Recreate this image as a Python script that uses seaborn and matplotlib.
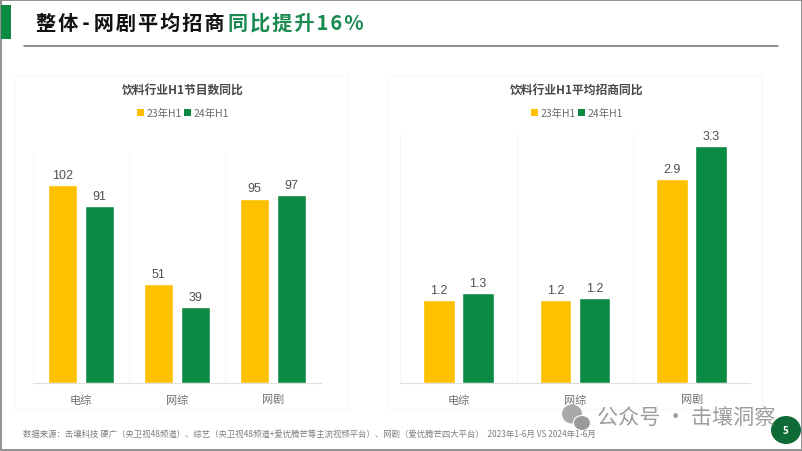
import matplotlib
matplotlib.use('Agg')
import matplotlib.pyplot as plt
from matplotlib.patches import Rectangle, Ellipse
from matplotlib.lines import Line2D
import pandas as pd
import seaborn as sns

sns.set_theme(style='white')
plt.rcParams['font.family'] = ['Noto Sans CJK SC', 'DejaVu Sans']

# values
categories = ['电综', '网综', '网剧']
years = ['23年H1', '24年H1']
count_23 = [102, 51, 95]
count_24 = [91, 39, 97]
avg_23 = [1.17, 1.17, 2.87]
avg_24 = [1.27, 1.20, 3.34]

# hair spaces give the wide letter spacing of the heading
title_black = '\u200a'.join('整体') + '\u200a\u200a-\u200a\u200a' + '\u200a'.join('网剧平均招商')
title_green = '\u200a'.join('同比提升16%')
left_title = '饮料行业H1节目数同比'
right_title = '饮料行业H1平均招商同比'
source = '数据来源：击壤科技 硬广（央卫视48频道）、综艺（央卫视48频道+爱优腾芒等主流视频平台）、网剧（爱优腾芒四大平台）  2023年1-6月 VS 2024年1-6月'
watermark = '公众号 · 击壤洞察'

YELLOW = '#FFC000'
GREEN = '#0B8A43'
W, H = 802, 452


def fx(x):
    return x / W


def fy(y):
    return 1 - y / H


def make_df(a, b):
    return pd.DataFrame({
        'cat': categories * 2,
        'year': [years[0]] * 3 + [years[1]] * 3,
        'val': a + b,
    })


def draw_panel(fig, df, box, ymax, fmt, width, gap):
    x0, x1, y0, y1 = box
    ax = fig.add_axes([fx(x0), fy(y1), (x1 - x0) / W, (y1 - y0) / H])
    ax.patch.set_alpha(0)
    sns.barplot(data=df, x='cat', y='val', hue='year', hue_order=years,
                palette=[YELLOW, GREEN], width=width, gap=gap,
                saturation=1, legend=False, ax=ax)
    ax.set_xlim(-0.5, 2.5)
    ax.set_ylim(0, ymax)
    ax.set_xlabel('')
    ax.set_ylabel('')
    ax.set_yticks([])
    for c in ax.containers:
        ax.bar_label(c, fmt=fmt, padding=3, fontsize=9, color='#505050', family='Liberation Sans')
    ax.set_xticks([-0.5, 0.5, 1.5, 2.5], minor=True)
    ax.grid(which='minor', axis='x', color='#e8e8e8', lw=0.7, ls=':')
    ax.tick_params(axis='x', which='both', length=0, pad=8, labelsize=8, labelcolor='#707070')
    for s in ['top', 'right', 'left']:
        ax.spines[s].set_visible(False)
    ax.spines['bottom'].set_color('#dedede')
    ax.spines['bottom'].set_linewidth(0.8)
    return ax


fig = plt.figure(figsize=(W / 100, H / 100), dpi=100, facecolor='white')

# page decoration
def px_rect(x, y, w, h, **kw):
    fig.add_artist(Rectangle((fx(x), fy(y + h)), w / W, h / H, transform=fig.transFigure, **kw))


px_rect(0.5, 0.5, 801, 450, fill=False, ec='#7f7f7f', lw=1.2)
px_rect(1, 6, 10, 34, fc=GREEN, ec='none')
fig.add_artist(Line2D([fx(24), fx(778)], [fy(47), fy(47)], color='#6e6e6e', lw=1.1))
px_rect(15, 77, 333, 333, fill=False, ec='#f7f7f7', lw=0.8)
px_rect(388, 77, 374, 333, fill=False, ec='#f7f7f7', lw=0.8)

fig.text(fx(36), fy(23), title_black, fontsize=14.5, fontweight='bold', color='#111111', va='center')
fig.text(fx(228), fy(23), title_green, fontsize=14.5, fontweight='bold', color='#1a8a50', va='center')

draw_panel(fig, make_df(count_23, count_24), (33, 321, 153, 384), 119, '%.0f', 0.77, 0.216)
draw_panel(fig, make_df(avg_23, avg_24), (400, 750, 135, 384), 3.507, '%.1f', 0.667, 0.18)

# titles and legends
for cx, txt in [(183, left_title), (577, right_title)]:
    fig.text(fx(cx), fy(90), txt, fontsize=8.5, fontweight='bold', color='#484848', ha='center', va='center')
for x_leg in [137, 531]:
    px_rect(x_leg, 110, 7, 7, fc=YELLOW, ec='none')
    fig.text(fx(x_leg + 10), fy(113.5), years[0], fontsize=7.5, color='#6a6a6a', va='center')
    px_rect(x_leg + 47, 110, 7, 7, fc=GREEN, ec='none')
    fig.text(fx(x_leg + 57), fy(113.5), years[1], fontsize=7.5, color='#6a6a6a', va='center')

fig.text(fx(23), fy(434), source, fontsize=6, color='#7f7f7f', va='center')

# watermark and page number
fig.add_artist(Ellipse((fx(572), fy(415)), 20 / W, 19 / H, transform=fig.transFigure, fc='#a9a9a9', ec='none'))
fig.add_artist(Ellipse((fx(582), fy(424)), 17 / W, 15 / H, transform=fig.transFigure, fc='#9a9a9a', ec='white', lw=0.8))
fig.text(fx(597), fy(418), watermark, fontsize=15.2, fontweight='light', color='#8c8c8c', alpha=0.85, va='center')
fig.add_artist(Ellipse((fx(786), fy(431)), 30 / W, 28 / H, transform=fig.transFigure, fc='#0f6b35', ec='none'))
fig.text(fx(786), fy(431), '5', fontsize=7, fontweight='bold', color='white', ha='center', va='center')

fig.savefig('out.png', dpi=100)
